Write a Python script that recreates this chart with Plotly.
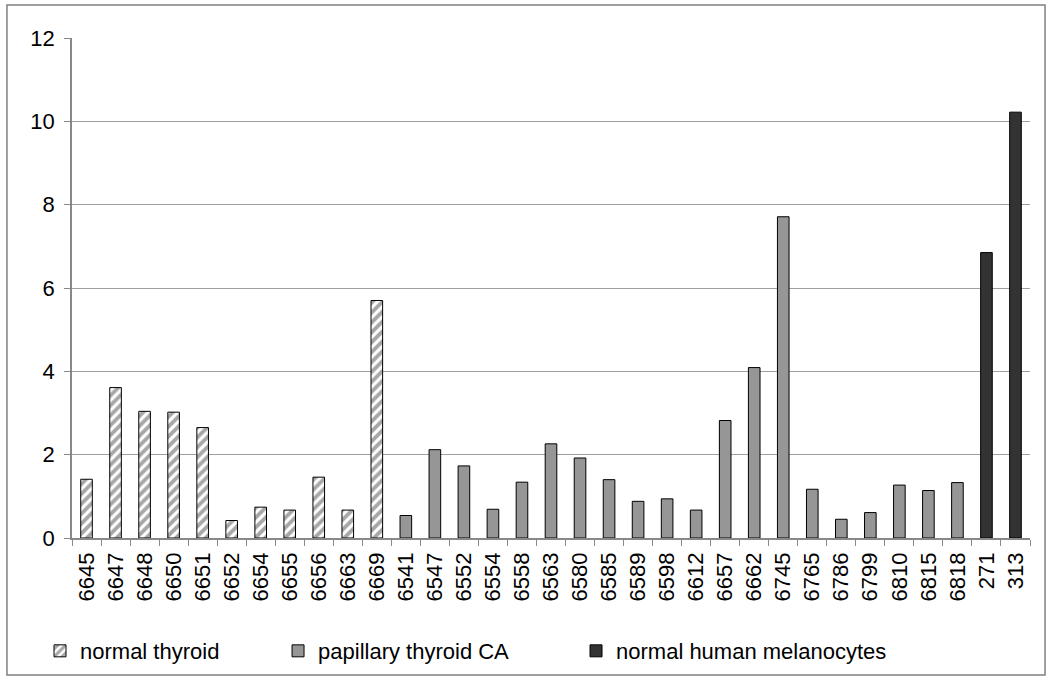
import plotly.graph_objects as go

cats_normal = ["6645", "6647", "6648", "6650", "6651", "6652", "6654", "6655", "6656", "6663", "6669"]
vals_normal = [1.41, 3.61, 3.04, 3.02, 2.65, 0.42, 0.74, 0.67, 1.46, 0.67, 5.70]

cats_pap = ["6541", "6547", "6552", "6554", "6558", "6563", "6580", "6585", "6589", "6598",
            "6612", "6657", "6662", "6745", "6765", "6786", "6799", "6810", "6815", "6818"]
vals_pap = [0.54, 2.12, 1.73, 0.69, 1.34, 2.26, 1.92, 1.40, 0.88, 0.94,
            0.67, 2.82, 4.09, 7.71, 1.17, 0.45, 0.61, 1.27, 1.14, 1.33]

cats_mel = ["271", "313"]
vals_mel = [6.85, 10.22]

all_cats = cats_normal + cats_pap + cats_mel
y_ticks = [0, 2, 4, 6, 8, 10, 12]

FONT = "Liberation Sans, Arial, sans-serif"

fig = go.Figure()
fig.add_trace(go.Bar(
    x=cats_normal, y=vals_normal, name="normal thyroid", legend="legend",
    marker=dict(color="white", line=dict(color="black", width=1),
                pattern=dict(shape="/", fgcolor="#505050", bgcolor="white",
                             size=7, solidity=0.55)),
))
fig.add_trace(go.Bar(
    x=cats_pap, y=vals_pap, name="papillary thyroid CA", legend="legend2",
    marker=dict(color="#969696", line=dict(color="black", width=1)),
))
fig.add_trace(go.Bar(
    x=cats_mel, y=vals_mel, name="normal human melanocytes", legend="legend3",
    marker=dict(color="#333333", line=dict(color="black", width=1)),
))

legend_common = dict(orientation="h", xref="container", yref="container",
                     yanchor="middle", y=0.0426, xanchor="left",
                     font=dict(family=FONT, size=22, color="black"),
                     bgcolor="rgba(0,0,0,0)", borderwidth=0)

fig.update_layout(
    width=1050, height=680,
    margin=dict(l=72, r=20, t=38, b=142, autoexpand=False),
    paper_bgcolor="white", plot_bgcolor="white",
    showlegend=True,
    barmode="overlay", bargap=0.6,
    font=dict(family=FONT, size=22, color="black"),
    legend=dict(x=0.0381, **legend_common),
    legend2=dict(x=0.2648, **legend_common),
    legend3=dict(x=0.5486, **legend_common),
    xaxis=dict(type="category", categoryorder="array", categoryarray=all_cats,
               tickangle=-90, ticks="outside", tickson="boundaries", ticklen=6,
               tickcolor="#888888", showline=True, linecolor="#888888", linewidth=1.5,
               showgrid=False, tickfont=dict(family=FONT, size=22, color="black"),
               ticklabelstandoff=4, automargin=False),
    yaxis=dict(range=[0, 12], tickvals=y_ticks, ticks="outside", ticklen=6,
               tickcolor="#888888", showline=True, linecolor="#888888", linewidth=1.5,
               showgrid=True, gridcolor="#a0a0a0", gridwidth=1, zeroline=False,
               tickfont=dict(family=FONT, size=22, color="black"),
               ticklabelstandoff=5, automargin=False),
    shapes=[dict(type="rect", xref="paper", yref="paper",
                 x0=-0.0679, x1=1.0157, y0=-0.274, y1=1.066,
                 line=dict(color="#808080", width=1.5), fillcolor="rgba(0,0,0,0)",
                 layer="below")],
)

fig.write_html("out.html", config={"displayModeBar": False},
               post_script="document.body.style.margin='0px';")
